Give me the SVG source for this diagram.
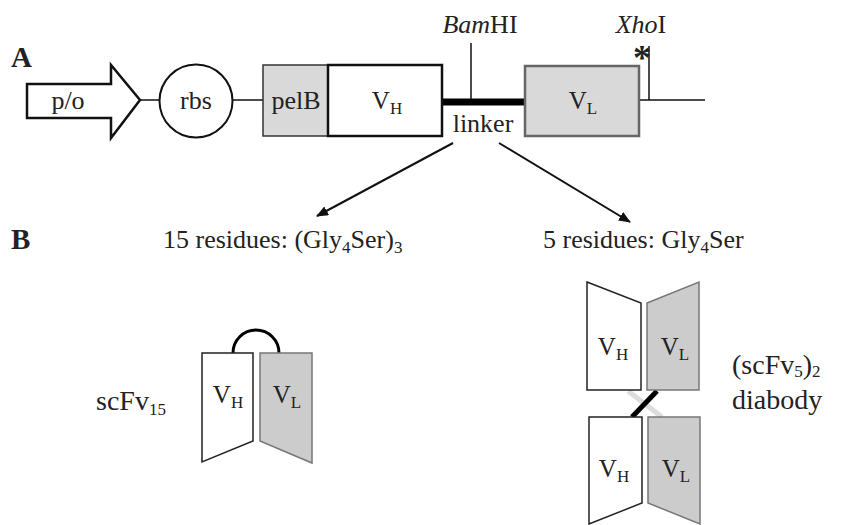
<svg xmlns="http://www.w3.org/2000/svg" width="842" height="525" viewBox="0 0 842 525">
<defs>
<style>
text{font-family:"Liberation Serif","Times New Roman",serif;fill:#222;}
.lbl{font-size:26px;}
.big{font-size:28px;}
.v{font-size:25px;text-anchor:middle;}
.mid{text-anchor:middle;}
.bold{font-weight:bold;font-size:29px;}
.sub{font-size:17px;}
.ln{stroke:#111;stroke-width:1.5;fill:none;}
.conn{stroke:#111;stroke-width:2;fill:none;}
</style>
<marker id="ah" markerUnits="userSpaceOnUse" markerWidth="12" markerHeight="10" refX="11" refY="5" orient="auto">
<path d="M0,0 L12,5 L0,10 Z" fill="#111"/>
</marker>
</defs>
<rect width="842" height="525" fill="#fff"/>

<g id="labels">
<text class="bold" x="11" y="67">A</text>
<text class="bold" x="11" y="249">B</text>
</g>

<g id="backbone">
<line class="ln" x1="140" y1="100" x2="159" y2="100"/>
<line class="ln" x1="233" y1="100" x2="263" y2="100"/>
<line x1="442" y1="102" x2="525" y2="102" stroke="#000" stroke-width="7"/>
<line class="ln" x1="639" y1="100" x2="705" y2="100"/>
</g>

<g id="po">
<polygon points="27,84 111,84 111,65 140,100 111,138 111,118 27,118" fill="#fff" stroke="#111" stroke-width="2.5" stroke-linejoin="miter"/>
<text class="lbl mid" x="68" y="109">p/o</text>
</g>

<g id="rbs">
<circle cx="196" cy="101" r="36.5" fill="#fff" stroke="#111" stroke-width="2"/>
<text class="lbl mid" x="196" y="109">rbs</text>
</g>

<g id="pelB">
<rect x="263" y="65" width="65" height="71" fill="#d9d9d9" stroke="#333" stroke-width="1.5"/>
<text class="lbl mid" x="296" y="109">pelB</text>
</g>

<g id="VH">
<rect x="328" y="65" width="114" height="71" fill="#fff" stroke="#111" stroke-width="2.5"/>
<text class="v" x="387" y="109">V<tspan class="sub" dy="5">H</tspan></text>
</g>

<g id="BamHI">
<line class="ln" x1="471" y1="43" x2="471" y2="99"/>
<text class="lbl mid" x="480" y="33"><tspan font-style="italic">Bam</tspan>HI</text>
</g>

<g id="linker">
<text class="lbl mid" x="483" y="132">linker</text>
</g>

<g id="VL">
<rect x="525" y="66" width="114" height="70" fill="#d9d9d9" stroke="#666" stroke-width="2.5"/>
<text class="v" x="583" y="109">V<tspan class="sub" dy="5">L</tspan></text>
</g>

<g id="XhoI">
<line class="ln" x1="649" y1="46" x2="649" y2="100"/>
<text class="lbl mid" x="641" y="33"><tspan font-style="italic">Xho</tspan>I</text>
<text class="mid" x="642" y="70" font-size="36" font-weight="bold">*</text>
</g>

<g id="connectors">
<line class="conn" x1="453" y1="143" x2="317" y2="216" marker-end="url(#ah)"/>
<line class="conn" x1="499" y1="143" x2="630" y2="222" marker-end="url(#ah)"/>
</g>

<g id="linker15">
<text class="lbl" x="163" y="248">15 residues: (Gly<tspan class="sub" dy="5">4</tspan><tspan dy="-5">Ser)</tspan><tspan class="sub" dy="5">3</tspan></text>
</g>

<g id="linker5">
<text class="lbl" x="543" y="248">5 residues: Gly<tspan class="sub" dy="5">4</tspan><tspan dy="-5">Ser</tspan></text>
</g>

<g id="scFv15">
<path d="M233,353 A23,23 0 0 1 279,353" fill="none" stroke="#000" stroke-width="3"/>
<polygon points="202,353 253,353 253,441 202,462" fill="#fff" stroke="#222" stroke-width="1.5"/>
<polygon points="260,353 312,353 312,463 260,441" fill="#cccccc" stroke="#777" stroke-width="1.5"/>
<text class="v" x="228" y="403">V<tspan class="sub" dy="5">H</tspan></text>
<text class="v" x="287" y="403">V<tspan class="sub" dy="5">L</tspan></text>
<text class="big" x="96" y="410">scFv<tspan class="sub" dy="5">15</tspan></text>
</g>

<g id="diabody">
<line x1="628" y1="391" x2="662" y2="417" stroke="#dddddd" stroke-width="5"/>
<line x1="657" y1="391" x2="632" y2="417" stroke="#000" stroke-width="5"/>
<polygon points="587,282 641,303 641,390 587,390" fill="#fff" stroke="#222" stroke-width="1.5"/>
<polygon points="647,303 699,282 699,390 647,390" fill="#cccccc" stroke="#777" stroke-width="1.5"/>
<polygon points="589,417 642,417 642,503 589,524" fill="#fff" stroke="#222" stroke-width="1.5"/>
<polygon points="648,417 700,417 700,524 648,503" fill="#cccccc" stroke="#777" stroke-width="1.5"/>
<text class="v" x="613" y="355">V<tspan class="sub" dy="5">H</tspan></text>
<text class="v" x="675" y="355">V<tspan class="sub" dy="5">L</tspan></text>
<text class="v" x="614" y="477">V<tspan class="sub" dy="5">H</tspan></text>
<text class="v" x="676" y="477">V<tspan class="sub" dy="5">L</tspan></text>
<text class="big" x="732" y="374">(scFv<tspan class="sub" dy="3">5</tspan><tspan dy="-3">)</tspan><tspan class="sub" dy="3">2</tspan></text>
<text class="big" x="732" y="409">diabody</text>
</g>
</svg>
